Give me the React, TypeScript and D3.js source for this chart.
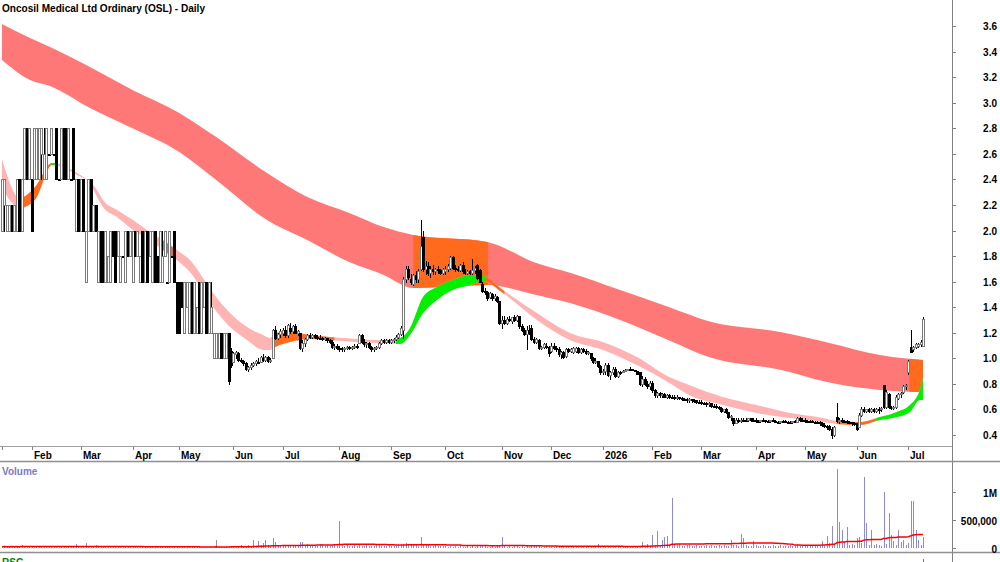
import React from "react";
import * as d3 from "d3";

type Bar = [number, number, number, number]; // open, high, low, close

// ---------- month labels (first bar of each month array gets a tick) ----------
const monthLabels = ["", "Feb", "Mar", "Apr", "May", "Jun", "Jul", "Aug", "Sep", "Oct", "Nov", "Dec",
  "2026", "Feb", "Mar", "Apr", "May", "Jun", "Jul"];

// ---------- daily OHLC, one array per month ----------
const jan25: Bar[] = [
  [2.0,2.4,2.0,2.4],[2.2,2.4,2.0,2.4],[2.0,2.2,2.0,2.2],[2.0,2.2,2.0,2.2],[2.2,2.2,2.0,2.0],[2.0,2.2,2.0,2.2],
  [2.0,2.4,2.0,2.4],[2.4,2.4,2.0,2.0],[2.0,2.4,2.0,2.4],[2.4,2.8,2.4,2.8],[2.8,2.8,2.4,2.4],[2.4,2.8,2.4,2.8]];
const feb25: Bar[] = [
  [2.4,2.4,2.0,2.0],[2.4,2.8,2.4,2.8],[2.4,2.8,2.4,2.8],[2.4,2.8,2.4,2.8],[2.6,2.8,2.4,2.8],[2.4,2.8,2.4,2.6],
  [2.4,2.8,2.4,2.8],[2.6,2.6,2.6,2.6],[2.6,2.8,2.6,2.8],[2.6,2.6,2.6,2.6],[2.8,2.8,2.4,2.4],[2.4,2.4,2.4,2.4],
  [2.4,2.8,2.4,2.8],[2.8,2.8,2.4,2.4],[2.8,2.8,2.4,2.4],[2.4,2.8,2.4,2.8],[2.4,2.4,2.4,2.4],[2.8,2.8,2.4,2.4],
  [2.0,2.4,2.0,2.4],[2.4,2.4,2.0,2.0]];
const mar25: Bar[] = [
  [2.0,2.4,2.0,2.4],[2.4,2.4,2.0,2.0],[1.6,2.0,1.6,2.0],[2.0,2.4,2.0,2.4],[2.4,2.4,2.0,2.0],[2.0,2.2,2.0,2.2],
  [2.2,2.2,2.0,2.0],[1.6,2.0,1.6,2.0],[2.0,2.0,1.6,1.6],[2.0,2.0,1.6,1.6],[1.6,2.0,1.6,2.0],[1.6,1.8,1.6,1.8],
  [1.6,2.0,1.6,2.0],[2.0,2.0,1.8,1.8],[2.0,2.0,1.6,1.6],[1.8,2.0,1.8,2.0],[1.6,1.8,1.6,1.8],[1.8,1.8,1.8,1.8],
  [1.6,2.0,1.6,2.0],[2.0,2.0,1.8,1.8],[1.8,2.0,1.8,2.0]];
const apr25: Bar[] = [
  [1.6,2.0,1.6,2.0],[2.0,2.0,1.8,1.8],[1.8,2.0,1.8,2.0],[1.6,1.8,1.6,1.8],[2.0,2.0,1.6,1.6],[1.6,2.0,1.6,2.0],
  [2.0,2.0,1.6,1.6],[1.8,2.0,1.8,2.0],[1.6,2.0,1.6,2.0],[2.0,2.0,1.6,1.6],[1.8,1.8,1.6,1.6],[1.6,2.0,1.6,2.0],
  [1.6,2.0,1.6,1.8],[1.8,2.0,1.8,2.0],[1.6,1.6,1.6,1.6],[1.6,2.0,1.6,2.0],[1.8,1.8,1.8,1.8],[2.0,2.0,1.6,1.6],
  [1.6,1.6,1.2,1.2]];
const may25: Bar[] = [
  [1.6,1.6,1.2,1.2],[1.6,1.6,1.4,1.4],[1.2,1.6,1.2,1.6],[1.4,1.6,1.4,1.6],[1.2,1.6,1.2,1.6],[1.6,1.6,1.2,1.2],
  [1.2,1.6,1.2,1.6],[1.2,1.4,1.2,1.4],[1.6,1.6,1.2,1.2],[1.2,1.6,1.2,1.6],[1.4,1.6,1.4,1.6],[1.6,1.6,1.2,1.2],
  [1.2,1.6,1.2,1.6],[1.2,1.6,1.2,1.4],[1.0,1.2,1.0,1.2],[1.0,1.2,1.0,1.2],[1.0,1.2,1.0,1.2],[1.2,1.2,1.0,1.0],
  [1.0,1.2,1.0,1.2],[1.0,1.2,1.0,1.2],[1.2,1.2,0.8,0.82],[1.06,1.08,0.93,0.95]];
const jun25: Bar[] = [
  [0.97,1.05,0.97,1.04],[1.03,1.06,1.0,1.05],[1.04,1.05,0.98,0.99],[0.99,1.0,0.97,0.98],[0.98,0.99,0.95,0.96],
  [0.96,0.97,0.91,0.92],[0.92,0.94,0.9,0.93],[0.93,0.96,0.92,0.95],[0.95,0.97,0.94,0.96],[0.96,0.99,0.95,0.98],
  [0.97,1.0,0.96,0.97],[0.97,1.02,0.97,1.01],[1.0,1.03,0.98,0.99],[0.99,1.02,0.98,1.01],[1.01,1.02,0.97,0.98],
  [0.98,1.0,0.97,0.99],[1.0,1.23,1.0,1.22],[1.22,1.25,1.15,1.16],[1.16,1.2,1.15,1.19],[1.19,1.23,1.17,1.21]];
const jul25: Bar[] = [
  [1.2,1.24,1.18,1.22],[1.22,1.25,1.17,1.18],[1.18,1.27,1.17,1.26],[1.24,1.28,1.2,1.21],[1.21,1.26,1.2,1.25],
  [1.25,1.27,1.2,1.2],[1.2,1.22,1.18,1.21],[1.2,1.2,1.07,1.08],[1.08,1.14,1.06,1.12],[1.12,1.16,1.1,1.15],
  [1.15,1.19,1.14,1.18],[1.18,1.2,1.16,1.17],[1.17,1.19,1.16,1.18],[1.18,1.19,1.16,1.17],[1.17,1.18,1.15,1.16],
  [1.16,1.18,1.15,1.16],[1.16,1.17,1.14,1.15],[1.15,1.17,1.14,1.16],[1.16,1.16,1.13,1.14],[1.14,1.15,1.12,1.13],
  [1.13,1.14,1.08,1.09],[1.09,1.11,1.07,1.1],[1.1,1.11,1.07,1.08]];
const aug25: Bar[] = [
  [1.08,1.1,1.06,1.08],[1.08,1.09,1.06,1.07],[1.07,1.09,1.06,1.08],[1.08,1.1,1.07,1.09],[1.09,1.1,1.07,1.08],
  [1.08,1.1,1.07,1.09],[1.09,1.11,1.08,1.1],[1.1,1.11,1.08,1.09],[1.12,1.19,1.12,1.18],[1.18,1.19,1.12,1.13],
  [1.13,1.15,1.1,1.11],[1.11,1.13,1.09,1.12],[1.12,1.13,1.08,1.09],[1.09,1.1,1.06,1.07],[1.07,1.09,1.06,1.08],
  [1.08,1.1,1.07,1.09],[1.09,1.13,1.08,1.12],[1.12,1.15,1.11,1.14],[1.14,1.15,1.12,1.13],[1.13,1.15,1.12,1.14],
  [1.14,1.15,1.12,1.13]];
const sep25: Bar[] = [
  [1.13,1.15,1.12,1.14],[1.14,1.16,1.13,1.15],[1.15,1.18,1.14,1.17],[1.17,1.2,1.16,1.19],[1.19,1.25,1.18,1.24],
  [1.22,1.64,1.16,1.62],[1.62,1.72,1.6,1.7],[1.7,1.72,1.62,1.64],[1.62,1.66,1.58,1.6],[1.58,1.66,1.57,1.65],
  [1.65,1.68,1.6,1.62],[1.62,1.7,1.6,1.68],[1.7,2.08,1.69,1.88],[1.95,2.0,1.68,1.7],[1.7,1.76,1.66,1.72],
  [1.72,1.75,1.65,1.67],[1.67,1.72,1.64,1.7],[1.7,1.73,1.66,1.68],[1.68,1.71,1.66,1.7],[1.7,1.72,1.67,1.69],
  [1.69,1.7,1.66,1.67],[1.67,1.71,1.66,1.7]];
const oct25: Bar[] = [
  [1.68,1.72,1.66,1.7],[1.7,1.74,1.68,1.72],[1.71,1.8,1.7,1.79],[1.79,1.8,1.7,1.71],[1.71,1.73,1.68,1.7],
  [1.7,1.72,1.68,1.69],[1.69,1.74,1.68,1.73],[1.73,1.75,1.67,1.68],[1.68,1.7,1.66,1.67],[1.67,1.69,1.66,1.68],
  [1.68,1.69,1.66,1.67],[1.67,1.78,1.66,1.69],[1.69,1.72,1.67,1.71],[1.73,1.74,1.62,1.63],[1.69,1.7,1.6,1.6],
  [1.58,1.6,1.52,1.53],[1.53,1.55,1.5,1.52],[1.52,1.53,1.46,1.47],[1.48,1.52,1.47,1.51],[1.5,1.51,1.46,1.47],
  [1.47,1.5,1.46,1.49],[1.48,1.49,1.44,1.45],[1.45,1.45,1.27,1.28]];
const nov25: Bar[] = [
  [1.28,1.33,1.24,1.3],[1.3,1.33,1.27,1.28],[1.28,1.32,1.27,1.31],[1.31,1.33,1.29,1.3],[1.29,1.32,1.28,1.32],
  [1.32,1.34,1.29,1.3],[1.3,1.34,1.29,1.33],[1.33,1.33,1.24,1.25],[1.25,1.27,1.21,1.22],[1.22,1.24,1.18,1.19],
  [1.19,1.25,1.07,1.22],[1.22,1.26,1.19,1.2],[1.24,1.26,1.14,1.15],[1.15,1.17,1.12,1.13],[1.13,1.16,1.12,1.15],
  [1.14,1.15,1.07,1.08],[1.08,1.1,1.07,1.09],[1.09,1.12,1.08,1.11],[1.1,1.12,1.08,1.09],[1.09,1.1,1.02,1.04]];
const dec25: Bar[] = [
  [1.06,1.12,1.05,1.1],[1.1,1.12,1.07,1.08],[1.08,1.1,1.06,1.07],[1.07,1.09,1.02,1.03],[1.03,1.06,1.0,1.05],
  [1.05,1.06,1.0,1.01],[1.02,1.08,1.01,1.07],[1.07,1.08,1.05,1.06],[1.06,1.08,1.05,1.07],[1.05,1.09,1.04,1.08],
  [1.06,1.09,1.05,1.08],[1.08,1.09,1.04,1.05],[1.05,1.08,1.04,1.07],[1.07,1.08,1.05,1.06],[1.06,1.07,1.03,1.04],
  [1.04,1.06,1.03,1.05],[1.04,1.04,0.99,1.0],[1.0,1.01,0.96,0.97],[0.97,1.0,0.96,0.98],[0.98,0.98,0.93,0.94],
  [0.94,0.95,0.88,0.89]];
const jan26: Bar[] = [
  [0.89,0.92,0.88,0.9],[0.9,0.96,0.88,0.95],[0.95,0.96,0.86,0.87],[0.87,0.9,0.84,0.89],[0.89,0.93,0.88,0.92],
  [0.92,0.93,0.85,0.86],[0.86,0.9,0.85,0.89],[0.89,0.9,0.88,0.89],[0.89,0.91,0.89,0.9],[0.9,0.92,0.9,0.91],
  [0.91,0.92,0.91,0.92],[0.92,0.93,0.91,0.92],[0.92,0.92,0.91,0.91],[0.91,0.91,0.9,0.9],[0.9,0.9,0.88,0.88],
  [0.89,0.89,0.79,0.8],[0.8,0.86,0.78,0.84],[0.84,0.85,0.79,0.8],[0.8,0.82,0.77,0.78],[0.78,0.82,0.76,0.81]];
const feb26: Bar[] = [
  [0.81,0.82,0.74,0.75],[0.75,0.76,0.7,0.71],[0.71,0.74,0.7,0.73],[0.73,0.74,0.7,0.71],[0.71,0.73,0.7,0.72],
  [0.72,0.73,0.7,0.7],[0.7,0.72,0.69,0.71],[0.71,0.72,0.69,0.7],[0.7,0.71,0.69,0.7],[0.7,0.71,0.68,0.69],
  [0.69,0.71,0.68,0.7],[0.7,0.7,0.68,0.69],[0.69,0.7,0.67,0.68],[0.68,0.69,0.67,0.68],[0.68,0.69,0.66,0.67],
  [0.67,0.69,0.66,0.68],[0.68,0.68,0.66,0.67],[0.67,0.68,0.66,0.67],[0.67,0.67,0.65,0.66],[0.66,0.67,0.65,0.66]];
const mar26: Bar[] = [
  [0.66,0.67,0.64,0.65],[0.65,0.66,0.64,0.65],[0.65,0.66,0.63,0.64],[0.64,0.66,0.63,0.65],[0.65,0.65,0.62,0.63],
  [0.63,0.64,0.62,0.63],[0.63,0.64,0.61,0.62],[0.62,0.63,0.6,0.61],[0.61,0.62,0.58,0.59],[0.59,0.6,0.58,0.6],
  [0.6,0.61,0.57,0.58],[0.58,0.58,0.53,0.54],[0.54,0.56,0.52,0.55],[0.53,0.53,0.48,0.49],[0.49,0.53,0.49,0.52],
  [0.52,0.53,0.5,0.51],[0.51,0.53,0.5,0.52],[0.52,0.53,0.51,0.52],[0.52,0.53,0.51,0.52],[0.52,0.53,0.51,0.53],
  [0.53,0.53,0.51,0.52],[0.52,0.53,0.51,0.52]];
const apr26: Bar[] = [
  [0.52,0.53,0.5,0.51],[0.51,0.52,0.5,0.51],[0.51,0.52,0.5,0.52],[0.52,0.53,0.51,0.52],[0.52,0.52,0.5,0.51],
  [0.51,0.52,0.5,0.51],[0.51,0.52,0.5,0.52],[0.52,0.53,0.51,0.51],[0.51,0.52,0.5,0.5],[0.5,0.51,0.49,0.5],
  [0.5,0.51,0.49,0.51],[0.51,0.52,0.5,0.51],[0.51,0.52,0.5,0.5],[0.5,0.51,0.49,0.5],[0.5,0.51,0.49,0.5],
  [0.5,0.51,0.49,0.51],[0.51,0.52,0.5,0.51],[0.5,0.54,0.5,0.53],[0.53,0.54,0.51,0.52],[0.52,0.53,0.51,0.52]];
const may26: Bar[] = [
  [0.52,0.53,0.5,0.51],[0.51,0.52,0.5,0.51],[0.51,0.52,0.5,0.51],[0.51,0.52,0.5,0.5],[0.5,0.51,0.49,0.5],
  [0.5,0.51,0.49,0.5],[0.5,0.51,0.48,0.49],[0.49,0.5,0.47,0.48],[0.48,0.49,0.46,0.47],[0.47,0.48,0.45,0.46],
  [0.47,0.48,0.44,0.45],[0.45,0.46,0.38,0.4],[0.4,0.47,0.39,0.46],[0.54,0.65,0.5,0.51],[0.51,0.53,0.49,0.52],
  [0.52,0.53,0.5,0.51],[0.51,0.52,0.5,0.51],[0.51,0.52,0.49,0.5],[0.5,0.51,0.49,0.5],[0.5,0.5,0.48,0.49],
  [0.49,0.5,0.48,0.49]];
const jun26: Bar[] = [
  [0.49,0.49,0.44,0.45],[0.46,0.57,0.46,0.56],[0.56,0.62,0.55,0.6],[0.6,0.62,0.58,0.59],[0.59,0.6,0.58,0.6],
  [0.6,0.61,0.58,0.59],[0.59,0.61,0.58,0.6],[0.6,0.61,0.58,0.59],[0.59,0.61,0.58,0.6],[0.6,0.62,0.57,0.6],
  [0.6,0.62,0.59,0.61],[0.79,0.79,0.61,0.62],[0.62,0.75,0.61,0.74],[0.72,0.73,0.61,0.62],[0.62,0.63,0.6,0.61],
  [0.61,0.63,0.6,0.62],[0.62,0.71,0.61,0.7],[0.69,0.73,0.68,0.72],[0.72,0.74,0.7,0.73],[0.74,0.79,0.73,0.78],
  [0.78,0.8,0.76,0.79]];
const jul26: Bar[] = [
  [0.89,0.99,0.88,0.98],[1.09,1.22,1.05,1.05],[1.07,1.1,1.06,1.09],[1.09,1.12,1.08,1.11],[1.1,1.12,1.09,1.11],
  [1.11,1.14,1.1,1.13],[1.1,1.32,1.1,1.31]];

// ---------- daily volume (thousands), one array per month ----------
const volJan25 = [20,35,10,25,40,15,30,20,45,30,25,35];
const volFeb25 = [30,20,15,25,40,20,10,30,25,15,20,35,20,25,30,15,20,25,70,30];
const volMar25 = [20,30,95,25,20,15,50,20,30,25,15,20,10,25,20,15,20,10,15,20,10];
const volApr25 = [15,10,20,15,10,20,15,10,15,20,10,15,10,20,15,10,15,40,20];
const volMay25 = [20,25,15,20,10,15,20,25,15,10,20,15,25,15,20,140,20,15,25,30,20,40];
const volJun25 = [40,30,35,45,30,40,50,35,150,40,130,45,90,150,60,40,175,100,50,60];
const volJul25 = [40,35,50,30,45,35,40,100,110,40,80,35,30,40,35,70,70,40,60,35,45,50,40];
const volAug25 = [490,45,40,50,35,40,45,30,55,40,35,45,30,40,35,45,50,40,35,30,45];
const volSep25 = [40,35,30,45,50,80,90,60,50,45,55,40,195,50,60,45,40,35,50,40,30,35];
const volOct25 = [30,25,35,20,30,25,40,20,25,30,20,35,25,30,40,45,30,25,20,30,25,35,50];
const volNov25 = [200,30,25,35,20,30,40,25,30,20,35,25,30,40,60,30,25,20,30,25];
const volDec25 = [25,20,30,25,20,35,25,20,30,25,20,25,30,20,25,30,20,25,20,70,30];
const volJan26 = [20,30,25,20,35,25,20,30,25,20,25,30,20,35,25,40,110,30,80,40];
const volFeb26 = [230,60,310,50,150,200,220,40,890,60,50,70,40,35,50,45,40,35,50,40];
const volMar26 = [40,35,50,30,45,40,35,50,30,45,40,35,140,60,45,40,250,170,50,40,35,120];
const volApr26 = [45,40,30,50,35,40,30,45,35,40,50,30,40,35,45,30,40,60,35,40];
const volMay26 = [40,35,45,30,50,40,35,130,60,220,90,400,70,1410,460,320,100,375,60,80,50];
const volJun26 = [180,190,90,1270,445,60,320,50,80,60,40,1000,70,620,230,120,50,320,100,150,60];
const volJul26 = [90,845,840,320,150,60,200];

// ---------- long-term moving-average band (bar index, upper, lower) ----------
const longIdx = [0, 11.4, 19.5, 35.7, 53, 72, 87, 107.6, 124, 141, 155, 167, 197, 217, 231, 251, 271, 287, 316, 336, 356.5, 374];
const longUpper = [3.616, 3.506, 3.436, 3.28, 3.1, 2.92, 2.731, 2.45, 2.262, 2.137, 2.027, 1.965, 1.91, 1.745, 1.667, 1.534, 1.40, 1.29, 1.206, 1.12, 1.026, 0.987];
const longLower = [3.334, 3.177, 3.13, 2.958, 2.80, 2.614, 2.395, 2.082, 1.925, 1.753, 1.652, 1.55, 1.573, 1.495, 1.43, 1.30, 1.14, 1.01, 0.91, 0.81, 0.752, 0.736];
const longHighlight: [number, number][] = [[167, 197], [368.5, 374]];

// ---------- short-term moving-average band ----------
const shortIdx = [0, 7.3, 13.4, 20.3, 30.5, 35.7, 38.6, 41, 46.7, 53.2, 60, 67, 71, 76.3, 85.7, 92.6, 99.5, 106, 108.8, 111, 117, 125, 133, 144, 153.5, 161.6, 165.7, 171, 176.6, 183, 190, 195.3, 203.4, 217.2, 230.6, 244, 257.8, 271, 279, 292.7, 306.5, 320, 333.3, 339, 348.4, 356.5, 363.4, 368.7, 372.7, 374];
const shortUpper = [2.559, 2.254, 2.34, 2.528, 2.45, 2.379, 2.317, 2.238, 2.16, 2.082, 1.988, 1.902, 1.847, 1.769, 1.511, 1.354, 1.245, 1.182, 1.159, 1.198, 1.206, 1.182, 1.167, 1.151, 1.143, 1.159, 1.237, 1.479, 1.558, 1.613, 1.652, 1.644, 1.534, 1.354, 1.198, 1.127, 1.01, 0.853, 0.791, 0.697, 0.634, 0.572, 0.533, 0.509, 0.501, 0.54, 0.58, 0.634, 0.752, 0.846];
const shortLower = [2.332, 2.176, 2.24, 2.512, 2.434, 2.37, 2.262, 2.184, 2.105, 2.004, 1.926, 1.824, 1.769, 1.675, 1.401, 1.245, 1.143, 1.065, 1.065, 1.088, 1.127, 1.151, 1.143, 1.127, 1.12, 1.112, 1.182, 1.354, 1.456, 1.534, 1.573, 1.605, 1.511, 1.3, 1.143, 1.065, 0.947, 0.807, 0.713, 0.634, 0.572, 0.533, 0.501, 0.486, 0.478, 0.517, 0.54, 0.58, 0.673, 0.673];
const shortOrange: [number, number][] = [[8, 20.3], [60, 62], [65, 70], [110, 135], [196, 204], [339, 355]];
const shortGreen: [number, number][] = [[20.3, 21.5], [160, 196], [355, 374]];

// ---------- axes ----------
const priceTicks = [0.4, 0.6, 0.8, 1.0, 1.2, 1.4, 1.6, 1.8, 2.0, 2.2, 2.4, 2.6, 2.8, 3.0, 3.2, 3.4, 3.6];
const volumeTicks = [0, 500, 1000];
const volumeTickLabels = ["0", "500,000", "1M"];

const priceMonths = [jan25, feb25, mar25, apr25, may25, jun25, jul25, aug25, sep25, oct25, nov25, dec25,
  jan26, feb26, mar26, apr26, may26, jun26, jul26];
const volumeMonths = [volJan25, volFeb25, volMar25, volApr25, volMay25, volJun25, volJul25, volAug25, volSep25,
  volOct25, volNov25, volDec25, volJan26, volFeb26, volMar26, volApr26, volMay26, volJun26, volJul26];

const FONT = "'Liberation Sans', Arial, Helvetica, sans-serif";
const RED = "#ff7878";
const ORANGE = "#ff6a1c";
const GREEN = "#00f000";
const PINK = "#ffb4b4";

export default function App() {
  const bars: Bar[] = priceMonths.flat();
  const vols: number[] = volumeMonths.flat();
  const n = bars.length;

  const x = d3.scaleLinear().domain([0, n - 1]).range([2, 923]);
  const y = d3.scaleLinear().domain([0.4, 3.6]).range([435, 26]);
  const yv = d3.scaleLinear().domain([0, 1000]).range([548, 492]);

  const monthStarts: number[] = [];
  let acc = 0;
  priceMonths.forEach((m) => { monthStarts.push(acc); acc += m.length; });

  const band = (idx: number[], up: number[], lo: number[]) =>
    d3.area<number>()
      .x((i) => x(idx[i]))
      .y0((i) => y(lo[i]))
      .y1((i) => y(up[i]))
      .curve(d3.curveMonotoneX)(d3.range(idx.length)) || "";

  const longPath = band(longIdx, longUpper, longLower);
  const shortPath = band(shortIdx, shortUpper, shortLower);

  // volume moving average (50 day simple)
  const maPeriod = 50;
  const ma = vols.map((_, i) => d3.mean(vols.slice(Math.max(0, i - maPeriod + 1), i + 1)) as number);
  const maPath = d3.line<number>().x((_, i) => x(i)).y((d) => yv(d))(ma) || "";

  const seg = (r: [number, number]) => ({ x0: x(r[0]), x1: x(r[1]) });

  return (
    <svg width={1000} height={562} style={{ position: "absolute", left: 0, top: 0, background: "#fff" }}
      fontFamily={FONT}>
      <defs>
        <clipPath id="pricePanel"><rect x={0} y={0} width={952} height={446} /></clipPath>
        {longHighlight.map((r, k) => (
          <clipPath id={`lh${k}`} key={k}><rect x={seg(r).x0} y={0} width={seg(r).x1 - seg(r).x0 + 1} height={446} /></clipPath>
        ))}
        {shortOrange.map((r, k) => (
          <clipPath id={`so${k}`} key={k}><rect x={seg(r).x0} y={0} width={seg(r).x1 - seg(r).x0} height={446} /></clipPath>
        ))}
        {shortGreen.map((r, k) => (
          <clipPath id={`sg${k}`} key={k}><rect x={seg(r).x0} y={0} width={seg(r).x1 - seg(r).x0 + 1} height={446} /></clipPath>
        ))}
      </defs>
      <rect x={0} y={0} width={1000} height={562} fill="#fff" />

      <g clipPath="url(#pricePanel)">
        {/* long-term band */}
        <path d={longPath} fill={RED} />
        {longHighlight.map((_, k) => (
          <path key={k} d={longPath} fill={ORANGE} clipPath={`url(#lh${k})`} />
        ))}
        {/* short-term band */}
        <path d={shortPath} fill={PINK} />
        {shortOrange.map((_, k) => (
          <path key={k} d={shortPath} fill={ORANGE} clipPath={`url(#so${k})`} />
        ))}
        {shortGreen.map((_, k) => (
          <path key={k} d={shortPath} fill={GREEN} clipPath={`url(#sg${k})`} />
        ))}

        {/* candles */}
        <g shapeRendering="crispEdges">
          {bars.map(([o, h, l, c], i) => {
            const cx = Math.round(x(i));
            return (
              <line key={`w${i}`} x1={cx + 0.5} x2={cx + 0.5} y1={Math.round(y(h))} y2={Math.round(y(l)) + 1}
                stroke="#000" strokeWidth={1} />
            );
          })}
          {bars.map(([o, h, l, c], i) => {
            const cx = Math.round(x(i));
            const top = Math.round(y(Math.max(o, c)));
            const bot = Math.round(y(Math.min(o, c)));
            const up = c > o;
            const hgt = Math.max(1, bot - top);
            return (
              <rect key={`b${i}`} x={cx - 0.5} y={top + 0.5} width={2} height={hgt}
                fill={up ? "#fff" : "#000"} stroke={up ? "#7a7a7a" : "#000"} strokeWidth={1} />
            );
          })}
        </g>
      </g>

      {/* frame lines */}
      <line x1={952.5} x2={952.5} y1={0} y2={562} stroke="#808080" />
      <line x1={0} x2={952} y1={446.5} y2={446.5} stroke="#a0a0a0" />
      <line x1={0} x2={1000} y1={461.5} y2={461.5} stroke="#909090" strokeWidth={1.5} />
      <line x1={0} x2={1000} y1={552.5} y2={552.5} stroke="#909090" strokeWidth={1.5} />

      {/* title */}
      <text x={2} y={12} fontSize={10.5} fontWeight="bold" fill="#000" textLength={203} lengthAdjust="spacingAndGlyphs">
        Oncosil Medical Ltd Ordinary (OSL) - Daily
      </text>

      {/* price axis */}
      {priceTicks.map((p) => (
        <g key={p}>
          <line x1={953} x2={956} y1={Math.round(y(p)) + 0.5} y2={Math.round(y(p)) + 0.5} stroke="#808080" />
          <text x={997} y={y(p) + 4} fontSize={10} fontWeight="bold" textAnchor="end" fill="#000">
            {d3.format(".1f")(p)}
          </text>
        </g>
      ))}

      {/* date axis */}
      {monthStarts.map((s, k) => (
        <g key={k}>
          <line x1={Math.round(x(s)) + 0.5} x2={Math.round(x(s)) + 0.5} y1={447} y2={450} stroke="#808080" />
          {monthLabels[k] && (
            <text x={Math.round(x(s)) + 2} y={459} fontSize={10} fontWeight="bold" fill="#000">{monthLabels[k]}</text>
          )}
        </g>
      ))}

      {/* volume panel */}
      <text x={2} y={475} fontSize={10} fontWeight="bold" fill="#7b7bc4">Volume</text>
      <g shapeRendering="crispEdges">
        {vols.map((v, i) => (
          <line key={i} x1={Math.round(x(i)) + 0.5} x2={Math.round(x(i)) + 0.5} y1={548} y2={Math.min(547, yv(v))}
            stroke="#8c8cd4" strokeWidth={1} />
        ))}
      </g>
      <path d={maPath} fill="none" stroke="#ff0000" strokeWidth={1.5} />
      {volumeTicks.map((v, k) => (
        <g key={v}>
          <line x1={953} x2={956} y1={Math.round(yv(v)) + 0.5} y2={Math.round(yv(v)) + 0.5} stroke="#808080" />
          <text x={997} y={yv(v) + 5} fontSize={10} fontWeight="bold" textAnchor="end" fill="#000">
            {volumeTickLabels[k]}
          </text>
        </g>
      ))}

      {/* RSC panel header (cut off at bottom, as in the source) */}
      <text x={2} y={566} fontSize={10} fontWeight="bold" fill="#008000">RSC</text>
      <line x1={Math.round(x(n - 1)) + 0.5} x2={Math.round(x(n - 1)) + 0.5} y1={559} y2={562} stroke="#2a2" />
    </svg>
  );
}
